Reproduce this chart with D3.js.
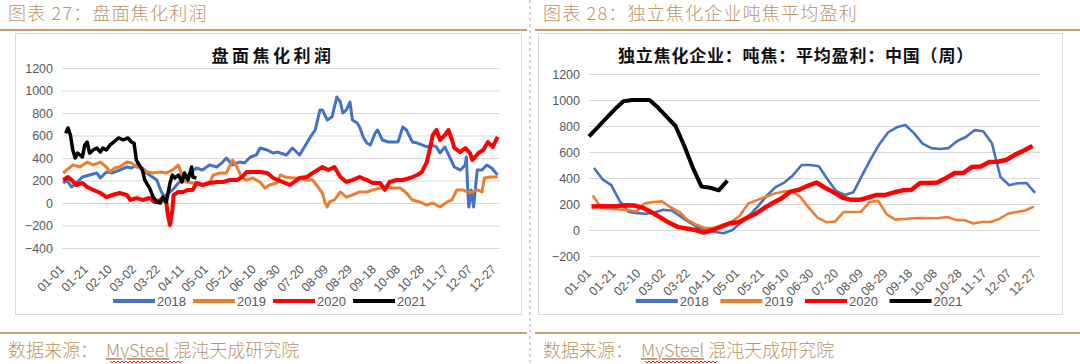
<!DOCTYPE html>
<html>
<head>
<meta charset="utf-8">
<script src="https://cdn.jsdelivr.net/npm/d3@7"></script>
<style>
  body { margin: 0; background: #fff; }
  svg { display: block; }
</style>
</head>
<body>
<div id="chart"></div>
<script>

// x axis: day of year, a label every 20 days
var tickLabels = ["01-01","01-21","02-10","03-02","03-22","04-11","05-01","05-21","06-10","06-30",
                  "07-20","08-09","08-29","09-18","10-08","10-28","11-17","12-07","12-27"];
var years = ["2018", "2019", "2020", "2021"];
var colors = ["#4472C4", "#ED7D31", "#FF0000", "#000000"];

// ---- left: 盘面焦化利润 (daily) ----
var days18 = [1,4,8,12,17,23,29,32,37,42,48,54,58,62,67,73,79,82,85,88,92,97,101,107,112,117,123,129,134,137,
  142,148,152,157,162,165,171,176,180,182,187,192,198,202,207,211,215,217,221,225,229,232,234,237,240,242,246,248,251,254,
  257,261,263,267,272,276,280,284,287,292,296,300,304,308,312,315,319,323,327,332,336,337,338,339,341,343,346,350,354,358,363];
var vals18 = [178,204,142,178,231,249,267,222,276,267,293,320,311,338,293,249,204,120,55,80,116,178,204,267,311,293,338,320,364,400,
  338,364,356,409,427,489,471,444,453,444,427,489,427,498,587,649,827,827,738,764,942,898,800,827,898,738,711,676,587,533,
  516,622,649,560,542,542,542,676,649,542,533,516,498,516,498,444,498,409,320,293,338,409,150,-36,116,-36,293,293,338,311,249];

var days19 = [1,4,9,15,21,26,32,37,40,44,48,54,58,62,67,71,76,82,87,92,97,100,103,109,117,123,126,132,137,142,
  144,147,150,154,159,165,169,173,179,182,186,192,198,204,209,212,217,219,221,223,227,232,237,242,248,254,259,265,271,276,
  282,287,292,298,304,309,315,321,325,329,334,340,346,350,352,358,363];
var vals19 = [267,293,338,320,364,338,364,320,276,311,320,364,356,320,311,276,267,276,267,293,338,250,187,178,160,178,249,267,267,382,
  356,293,222,204,222,187,133,160,178,249,231,222,222,204,204,160,89,9,-36,9,27,98,53,71,98,98,116,133,142,133,
  133,89,27,9,-18,0,-36,9,27,116,116,89,116,98,222,231,231];

var days20 = [1,5,8,12,17,21,26,32,37,42,48,54,57,62,67,73,77,82,84,87,88,90,92,93,97,101,105,109,112,117,
  123,129,134,140,146,150,154,159,165,171,176,180,190,198,204,209,217,222,227,232,237,242,248,254,259,265,269,273,279,284,
  290,296,300,304,307,309,312,315,319,322,325,327,332,336,340,342,347,351,355,359,363];
var vals20 = [204,231,204,160,178,142,116,89,53,71,89,71,27,44,27,44,9,27,44,0,-89,-196,-62,71,98,98,116,116,178,160,
  178,187,187,204,204,231,276,276,276,267,222,204,160,222,231,267,320,293,320,231,187,204,231,204,178,178,116,187,204,204,
  222,249,276,364,498,604,649,560,604,649,560,489,453,489,444,382,444,471,542,498,587];

var days21 = [3,5,7,9,11,13,17,19,21,23,26,29,32,34,37,40,42,47,51,55,58,60,62,67,69,73,76,79,82,84,
  87,90,92,94,97,100,102,105,108,109,112];
var vals21 = [620,667,604,471,400,444,409,516,542,444,471,489,453,489,471,516,533,578,560,578,542,533,382,293,204,133,53,9,0,53,
  9,178,249,222,249,187,267,204,320,231,222];

// ---- right: 独立焦化企业 吨焦平均盈利 (weekly, Fridays) ----
var firstFriday = [4, 3, 2, 0];
var week18 = [477,390,345,220,140,130,125,135,155,150,105,60,20,5,-15,-25,0,55,115,185,265,330,365,420,500,500,
  490,390,300,270,290,420,545,660,750,790,808,745,665,630,623,630,685,715,768,760,670,408,345,360,362,285];
var week19 = [265,170,165,158,155,140,205,215,220,175,140,75,40,15,15,40,60,110,205,230,255,280,295,300,255,170,
  95,60,65,138,138,140,215,225,120,80,85,90,92,90,92,100,78,75,50,62,62,85,125,138,150,180];
var week20 = [180,182,182,185,190,188,170,135,95,55,22,12,0,-20,0,25,52,60,95,125,170,210,245,295,310,340,
  365,325,290,250,232,232,250,270,270,290,305,310,362,362,365,400,438,440,485,488,523,525,540,580,612,646];
var week21 = [720,790,860,930,990,1000,1000,1000,940,870,800,650,480,335,325,305,380];

var svg = d3.select("#chart").append("svg")
  .attr("width", 1080)
  .attr("height", 364);

var tan = "#b8966a";
var cjk = "'Noto Sans CJK SC', sans-serif";
var latin = "'Liberation Sans', Arial, sans-serif";

// page frame: headers, rules, source lines
function pageFrame(x0, x1, head) {
  svg.append("text")
    .attr("x", x0 + 8).attr("y", 20)
    .attr("font-family", cjk).attr("font-weight", 300)
    .attr("font-size", 18).attr("letter-spacing", 1.2)
    .attr("fill", tan)
    .text(head);
  svg.append("line")
    .attr("x1", x0).attr("x2", x1).attr("y1", 30).attr("y2", 30)
    .attr("stroke", "#c4a272").attr("stroke-width", 2);
  svg.append("line")
    .attr("x1", x0).attr("x2", x1).attr("y1", 333).attr("y2", 333)
    .attr("stroke", "#c4a272").attr("stroke-width", 2);

  var src = svg.append("text")
    .attr("x", x0 + 8).attr("y", 357)
    .attr("font-family", cjk).attr("font-weight", 300)
    .attr("font-size", 18).attr("fill", tan);
  src.append("tspan").text("数据来源：");
  src.append("tspan").attr("dx", 8).attr("text-decoration", "underline").text("MySteel");
  src.append("tspan").attr("dx", 4).text("混沌天成研究院");

  // spell-check squiggle under MySteel
  var zx = x0 + 110, pts = [];
  for (var i = 0; i <= 36; i++) pts.push([zx + i * 2, 361 + (i % 2 ? 2 : 0)]);
  svg.append("path")
    .attr("d", d3.line()(pts))
    .attr("fill", "none").attr("stroke", "#e02020").attr("stroke-width", 1);
}

pageFrame(0, 527, "图表 27：盘面焦化利润");
pageFrame(535, 1080, "图表 28：独立焦化企业吨焦平均盈利");

svg.append("line")
  .attr("x1", 530).attr("x2", 530).attr("y1", 0).attr("y2", 364)
  .attr("stroke", "#b0b0b0").attr("stroke-dasharray", "3,3");

function drawChart(c) {
  var g = svg.append("g");

  g.append("rect")
    .attr("x", c.box[0] + 0.5).attr("y", c.box[1] + 0.5)
    .attr("width", c.box[2] - c.box[0]).attr("height", c.box[3] - c.box[1])
    .attr("fill", "#fff").attr("stroke", "#d9d9d9");

  var x = d3.scaleLinear().domain([0, 365]).range([c.left, c.right]);
  var y = d3.scaleLinear().domain([c.yMin, 1200]).range([c.bottom, c.top]);

  var yAxis = d3.axisLeft(y)
    .tickValues(d3.range(c.yMin, 1201, 200))
    .tickFormat(d3.format("d"))
    .tickSize(-(c.right - c.left))
    .tickPadding(9);

  var ya = g.append("g")
    .attr("transform", "translate(" + c.left + ",0)")
    .call(yAxis);
  ya.select(".domain").remove();
  ya.selectAll(".tick line").attr("stroke", "#d9d9d9").attr("stroke-width", 1.2);
  ya.selectAll(".tick text")
    .attr("font-family", latin).attr("font-size", 12.5).attr("fill", "#595959");

  g.selectAll(".xlab")
    .data(tickLabels)
    .enter().append("text")
    .attr("class", "xlab")
    .attr("transform", function(d, i) {
      return "translate(" + (x(i * 20) + 3) + "," + c.xLabY + ") rotate(-45)";
    })
    .attr("text-anchor", "end")
    .attr("font-family", latin).attr("font-size", 12.5).attr("fill", "#595959")
    .text(function(d) { return d; });

  var line = d3.line()
    .x(function(d) { return x(d[0]); })
    .y(function(d) { return y(d[1]); });

  c.series.forEach(function(s, i) {
    g.append("path")
      .datum(s)
      .attr("d", line)
      .attr("fill", "none")
      .attr("stroke", colors[i])
      .attr("stroke-width", c.widths[i])
      .attr("stroke-linejoin", "round");
  });

  // legend
  var lx = (c.box[0] + c.box[2]) / 2 - c.itemW * 2 + 5;
  years.forEach(function(yr, i) {
    var ix = lx + i * c.itemW;
    g.append("line")
      .attr("x1", ix).attr("x2", ix + 42).attr("y1", 301).attr("y2", 301)
      .attr("stroke", colors[i]).attr("stroke-width", 4);
    g.append("text")
      .attr("x", ix + 44).attr("y", 306)
      .attr("font-family", latin).attr("font-size", 13).attr("fill", "#595959")
      .text(yr);
  });

  g.append("text")
    .attr("x", c.titleX).attr("y", 62)
    .attr("text-anchor", "middle")
    .attr("font-family", cjk).attr("font-weight", 700)
    .attr("font-size", 17).attr("letter-spacing", c.titleSpacing)
    .attr("fill", "#111")
    .text(c.title);
}

function pairs(days, vals) {
  return days.map(function(d, i) { return [d, vals[i]]; });
}
function weekly(start, vals) {
  return vals.map(function(v, i) { return [start + i * 7, v]; });
}

drawChart({
  box: [15, 33, 521, 314],
  left: 62, right: 500, top: 68, bottom: 248, yMin: -400,
  xLabY: 270,
  title: "盘面焦化利润", titleX: 273, titleSpacing: 3.5,
  itemW: 80,
  widths: [3, 3, 4, 3.5],
  series: [pairs(days18, vals18), pairs(days19, vals19), pairs(days20, vals20), pairs(days21, vals21)]
});

drawChart({
  box: [538, 33, 1062, 314],
  left: 589, right: 1040, top: 74, bottom: 256, yMin: -200,
  xLabY: 274,
  title: "独立焦化企业：吨焦：平均盈利：中国（周）", titleX: 796, titleSpacing: 0.8,
  itemW: 84.6,
  widths: [2.6, 2.6, 4.5, 4],
  series: [weekly(firstFriday[0], week18), weekly(firstFriday[1], week19),
           weekly(firstFriday[2], week20), weekly(firstFriday[3], week21)]
});

</script>
</body>
</html>
